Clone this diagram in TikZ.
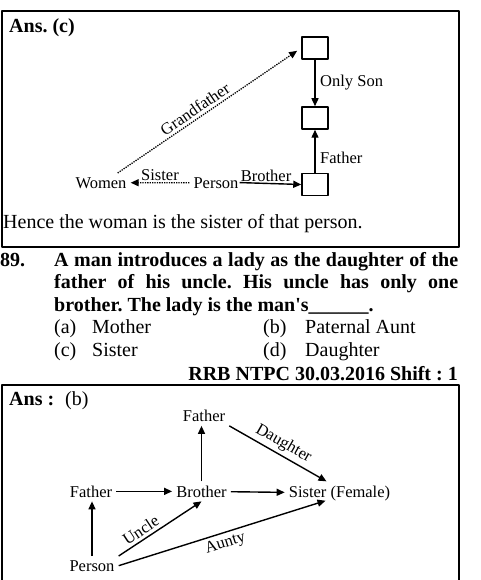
\documentclass[tikz,border=0pt]{standalone}
\usepackage{fontspec}
\setmainfont{Liberation Serif}
\usetikzlibrary{arrows.meta}
\begin{document}
\frenchspacing
\begin{tikzpicture}[x=1pt, y=1pt, line join=round, >={Triangle[length=8pt,width=7pt]},
  txt/.style={inner sep=0pt, anchor=base west, font=\fontsize{20}{24}\selectfont},
  boldtxt/.style={txt, font=\fontsize{20}{24}\selectfont\bfseries},
  lbl/.style={inner sep=4pt, anchor=base, font=\fontsize{16.5}{19}\selectfont},
  tag/.style={inner sep=1.5pt, font=\fontsize{16.5}{19}\selectfont},
  slant/.style={tag, sloped, inner sep=3pt},
  kin/.style={draw, line width=1.5pt, minimum width=26pt, minimum height=22pt, inner sep=0pt},
  rel/.style={->, line width=1.4pt},
  hint/.style={->, line width=1.3pt, dash pattern=on 1.3pt off 1.1pt}]
\useasboundingbox (0,0) rectangle (480,-580);
% first answer
\draw[line width=1.3pt] (2,-11) rectangle (459,-247);
\node[boldtxt] (ansc) at (9,-33) {Ans. (c)};
\node[kin] (top) at (315,-48) {};
\node[kin] (mid) at (315,-118) {};
\node[kin] (low) at (315,-184.5) {};
\node[lbl] (women) at (101,-188) {Women};
\node[lbl] (person) at (216,-188) {Person};
\draw[rel] (top) -- (mid) node[tag, midway, right=3pt] {Only Son};
\draw[rel] (low) -- (mid) node[tag, pos=.35, right=3pt] {Father};
\draw[hint] (person.west) -- (women.east) node[tag, midway, above] {Sister};
\draw[rel, shorten <=-3pt] (person.east) -- (low.west) node[tag, pos=.4, above] {Brother};
\draw[hint, shorten >=5pt] ([xshift=-13pt]women.north east) -- (top.west)
  node[slant, pos=.45, above] {Grandfather};
\node[txt] (hence) at (3,-228) {Hence the woman is the sister of that person.};
% question
\node[boldtxt] (qno) at (0,-266) {89.};
\node[boldtxt] (q1) at (54,-266) {\makebox[404pt][s]{A man introduces a lady as the daughter of the}};
\node[boldtxt] (q2) at (54,-288.5) {\makebox[404pt][s]{father of his uncle. His uncle has only one}};
\node[boldtxt] (q3) at (54,-311) {brother. The lady is the man\textquotesingle s\_\_\_\_\_\_.};
\node[txt] (oa) at (54,-333) {(a)};
\node[txt] (ta) at (92,-333) {Mother};
\node[txt] (ob) at (263,-333) {(b)};
\node[txt] (tb) at (305,-333) {Paternal Aunt};
\node[txt] (oc) at (54,-356) {(c)};
\node[txt] (tc) at (92,-356) {Sister};
\node[txt] (od) at (263,-356) {(d)};
\node[txt] (td) at (305,-356) {Daughter};
\node[boldtxt, anchor=base east] (src) at (458,-380) {RRB NTPC 30.03.2016 Shift : 1};
% second answer
\draw[line width=1.3pt] (2,-580) |- (459,-385) -- (459,-580);
\node[txt] (ansb) at (9,-405) {\textbf{Ans :}\hspace{11pt}(b)};
\node[lbl] (pa) at (204,-421.5) {Father};
\node[lbl] (fa) at (91,-497) {Father};
\node[lbl] (bro) at (201.5,-497) {Brother};
\node[lbl] (sis) at (339.5,-497) {Sister (Female)};
\node[lbl] (per) at (92,-571) {Person};
\draw[rel] (fa) -- (bro);
\draw[rel] (bro) -- (sis);
\draw[rel] (bro.north) -- (bro.north |- pa.south);
\draw[rel] (per.north) -- (per.north |- fa.south);
\draw[rel] (pa.south east) -- ([xshift=-13pt]sis.north)
  node[slant, midway, above] {Daughter};
\draw[rel] (per.north east) -- (bro.south)
  node[slant, pos=.33, above] {Uncle};
\draw[rel] (per.east) -- ([xshift=-14pt,yshift=4pt]sis.south)
  node[slant, midway, below] {Aunty};
\end{tikzpicture}
\end{document}
